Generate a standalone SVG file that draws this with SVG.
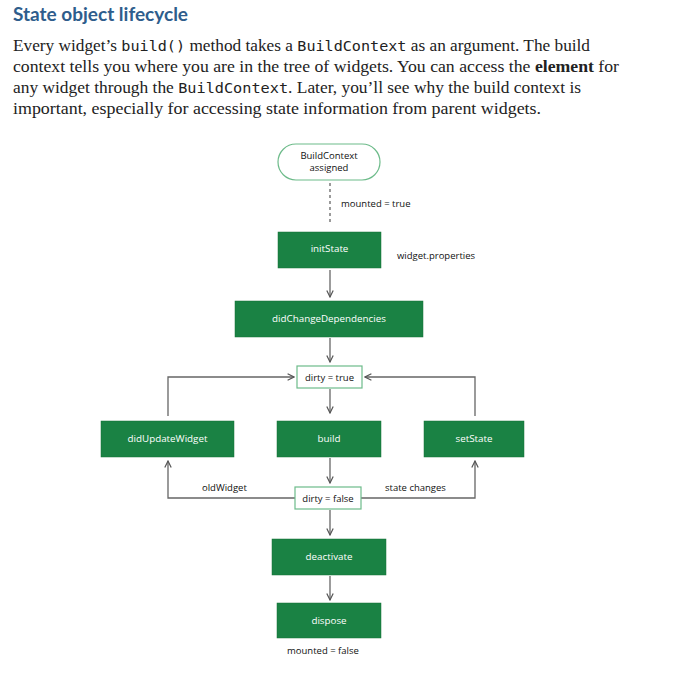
<svg xmlns="http://www.w3.org/2000/svg" width="700" height="685" viewBox="0 0 700 685">
<style>
.title{font-family:"Lato","Liberation Sans",sans-serif;font-weight:bold;font-size:19px;fill:#2e5d8c}
.para{font-family:"Liberation Serif",serif;font-size:16px;fill:#222}
.code{font-family:"DejaVu Sans Mono","Liberation Mono",monospace;font-size:14px}
.box{fill:#1a8244;stroke:#157036;stroke-width:0.5}
.wbox{fill:#fff;stroke:#6dbb8a;stroke-width:1.2}
.bt{font-family:"Open Sans","Liberation Sans",sans-serif;font-size:9.8px;fill:#fff;text-anchor:middle}
.lt{font-family:"Open Sans","Liberation Sans",sans-serif;font-size:9.5px;fill:#111}
.ltc{font-family:"Open Sans","Liberation Sans",sans-serif;font-size:9.5px;fill:#111;text-anchor:middle}
.ln{fill:none;stroke:#666;stroke-width:1.3}
</style>
<defs>
<marker id="ah" viewBox="0 0 10 10" refX="9" refY="5" markerWidth="8" markerHeight="8" markerUnits="userSpaceOnUse" orient="auto">
<path d="M1,1 L9,5 L1,9" fill="none" stroke="#555" stroke-width="1.5"/>
</marker>
</defs>
<text class="title" x="13" y="21">State object lifecycle</text>
<text class="para" x="13" y="51" textLength="577" lengthAdjust="spacingAndGlyphs">Every widget’s <tspan class="code">build()</tspan> method takes a <tspan class="code">BuildContext</tspan> as an argument. The build</text>
<text class="para" x="13" y="72" textLength="606" lengthAdjust="spacingAndGlyphs">context tells you where you are in the tree of widgets. You can access the <tspan font-weight="bold">element</tspan> for</text>
<text class="para" x="13" y="93" textLength="568" lengthAdjust="spacingAndGlyphs">any widget through the <tspan class="code">BuildContext</tspan>. Later, you’ll see why the build context is</text>
<text class="para" x="13" y="114" textLength="528" lengthAdjust="spacingAndGlyphs">important, especially for accessing state information from parent widgets.</text>

<g id="connectors">
<line class="ln" x1="330" y1="183" x2="330" y2="224" stroke-dasharray="3,3"/>
<line class="ln" x1="330" y1="270" x2="330" y2="297" marker-end="url(#ah)"/>
<line class="ln" x1="330" y1="338" x2="330" y2="362" marker-end="url(#ah)"/>
<line class="ln" x1="330" y1="389" x2="330" y2="413" marker-end="url(#ah)"/>
<line class="ln" x1="330" y1="458" x2="330" y2="483" marker-end="url(#ah)"/>
<line class="ln" x1="330" y1="510" x2="330" y2="535" marker-end="url(#ah)"/>
<line class="ln" x1="330" y1="576" x2="330" y2="600" marker-end="url(#ah)"/>
<polyline class="ln" points="168,416 168,377 294,377" marker-end="url(#ah)"/>
<polyline class="ln" points="475,416 475,377 365,377" marker-end="url(#ah)"/>
<polyline class="ln" points="295,498 168,498 168,461" marker-end="url(#ah)"/>
<polyline class="ln" points="361,498 475,498 475,461" marker-end="url(#ah)"/>
</g>

<g id="n-buildcontext">
<rect class="wbox" x="278" y="144" width="102" height="36" rx="18"/>
<text class="ltc" x="329" y="159" font-size="9px">BuildContext</text>
<text class="ltc" x="329" y="171" font-size="9px">assigned</text>
</g>
<text class="lt" x="341" y="207">mounted = true</text>
<g id="n-initstate">
<rect class="box" x="278" y="232" width="103" height="36"/>
<text class="bt" x="329.5" y="252">initState</text>
</g>
<text class="lt" x="397" y="259">widget.properties</text>
<g id="n-didchange">
<rect class="box" x="235" y="301" width="188" height="36"/>
<text class="bt" x="329" y="322">didChangeDependencies</text>
</g>
<g id="n-dirtytrue">
<rect class="wbox" x="297" y="366" width="65" height="22"/>
<text class="ltc" x="329.5" y="381">dirty = true</text>
</g>
<g id="n-didupdate">
<rect class="box" x="101" y="421" width="133" height="36"/>
<text class="bt" x="167.5" y="442">didUpdateWidget</text>
</g>
<g id="n-build">
<rect class="box" x="277" y="421" width="104" height="36"/>
<text class="bt" x="329" y="442">build</text>
</g>
<g id="n-setstate">
<rect class="box" x="424" y="421" width="100" height="36"/>
<text class="bt" x="474" y="442">setState</text>
</g>
<text class="lt" x="202" y="491">oldWidget</text>
<text class="lt" x="385" y="491">state changes</text>
<g id="n-dirtyfalse">
<rect class="wbox" x="295" y="487" width="66" height="22"/>
<text class="ltc" x="328" y="502">dirty = false</text>
</g>
<g id="n-deactivate">
<rect class="box" x="272" y="539" width="114" height="36"/>
<text class="bt" x="329" y="560">deactivate</text>
</g>
<g id="n-dispose">
<rect class="box" x="277" y="603" width="104" height="35"/>
<text class="bt" x="329" y="624">dispose</text>
</g>
<text class="lt" x="287" y="654">mounted = false</text>
</svg>
